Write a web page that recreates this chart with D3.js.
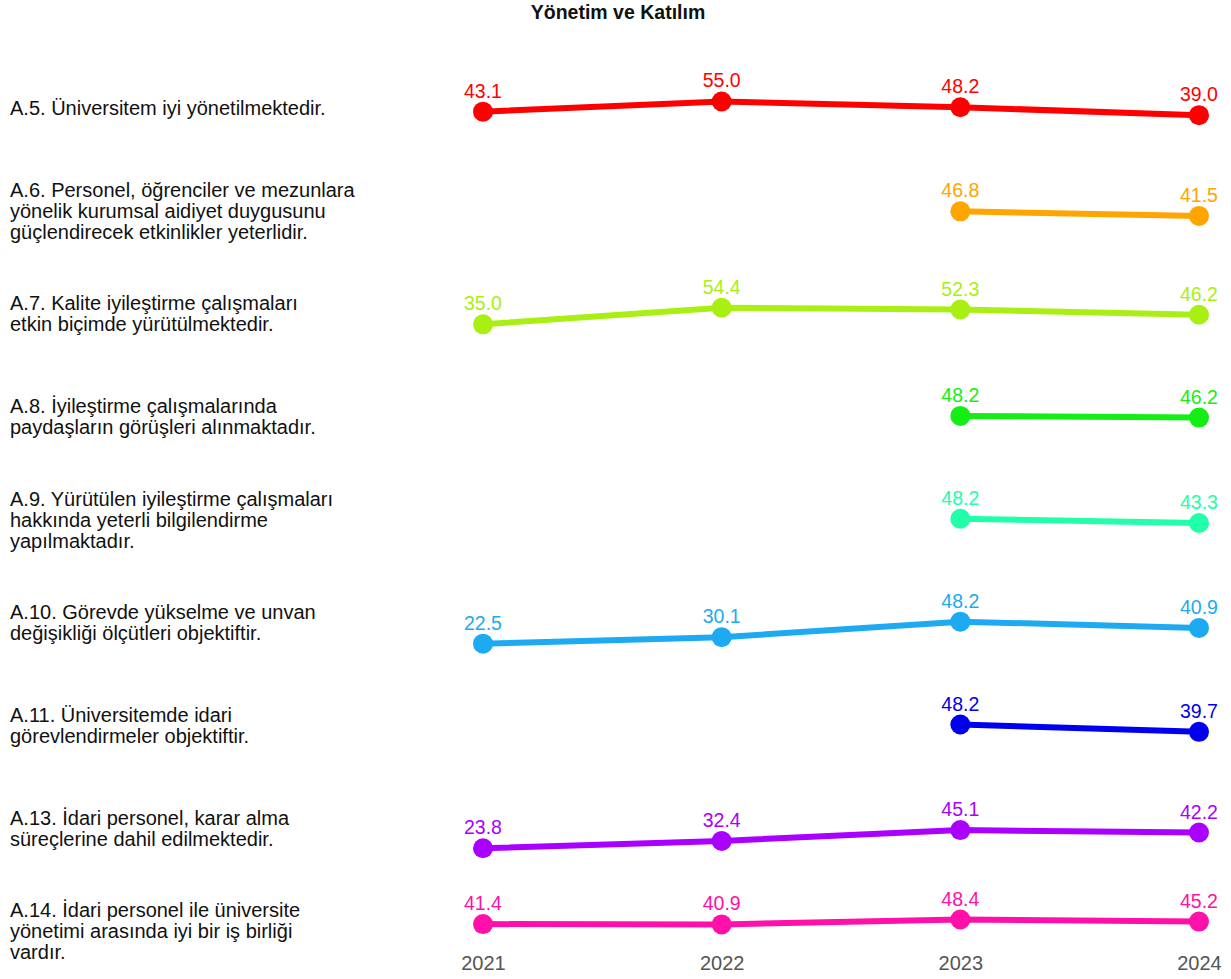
<!DOCTYPE html>
<html>
<head>
<meta charset="utf-8">
<script src="https://cdn.jsdelivr.net/npm/d3@7"></script>
<style>
  html, body { margin: 0; padding: 0; background: #fff; }
  svg { display: block; font-family: "Liberation Sans", Arial, sans-serif; }
</style>
</head>
<body>
<svg id="chart" width="1231" height="979"></svg>
<script>
// ---------- data ----------
const title = "Yönetim ve Katılım";
const years = ["2021", "2022", "2023", "2024"];
const rowIds = ["A.5", "A.6", "A.7", "A.8", "A.9", "A.10", "A.11", "A.13", "A.14"];
const rowLabels = [
  ["A.5. Üniversitem iyi yönetilmektedir."],
  ["A.6. Personel, öğrenciler ve mezunlara", "yönelik kurumsal aidiyet duygusunu", "güçlendirecek etkinlikler yeterlidir."],
  ["A.7. Kalite iyileştirme çalışmaları", "etkin biçimde yürütülmektedir."],
  ["A.8. İyileştirme çalışmalarında", "paydaşların görüşleri alınmaktadır."],
  ["A.9. Yürütülen iyileştirme çalışmaları", "hakkında yeterli bilgilendirme", "yapılmaktadır."],
  ["A.10. Görevde yükselme ve unvan", "değişikliği ölçütleri objektiftir."],
  ["A.11. Üniversitemde idari", "görevlendirmeler objektiftir."],
  ["A.13. İdari personel, karar alma", "süreçlerine dahil edilmektedir."],
  ["A.14. İdari personel ile üniversite", "yönetimi arasında iyi bir iş birliği", "vardır."]
];
const seriesA5  = [43.1, 55.0, 48.2, 39.0];
const seriesA6  = [null, null, 46.8, 41.5];
const seriesA7  = [35.0, 54.4, 52.3, 46.2];
const seriesA8  = [null, null, 48.2, 46.2];
const seriesA9  = [null, null, 48.2, 43.3];
const seriesA10 = [22.5, 30.1, 48.2, 40.9];
const seriesA11 = [null, null, 48.2, 39.7];
const seriesA13 = [23.8, 32.4, 45.1, 42.2];
const seriesA14 = [41.4, 40.9, 48.4, 45.2];
const allSeries = [seriesA5, seriesA6, seriesA7, seriesA8, seriesA9, seriesA10, seriesA11, seriesA13, seriesA14];
const colors = ["#ff0000", "#ffa500", "#aaef14", "#14ee14", "#22ffaa", "#1eaaf0", "#0000ee", "#aa00ff", "#ff10a8"];

// ---------- layout ----------
const svg = d3.select("#chart");

const x = d3.scalePoint().domain(years).range([483, 1199]);
const rowCenter = d3.scalePoint().domain(rowIds).range([108, 931]);
const plotBottom = 951;

function yScaleFor(id) {
  const c = rowCenter(id);
  const bottom = Math.min(c + 40.5, plotBottom);
  return d3.scaleLinear().domain([0, 100]).range([bottom, c - 45]);
}

// title
svg.append("text")
  .attr("x", 618).attr("y", 19)
  .attr("text-anchor", "middle")
  .attr("font-weight", "bold")
  .attr("font-size", 19.5)
  .attr("fill", "#111")
  .text(title);

// row labels
rowIds.forEach((id, i) => {
  const lines = rowLabels[i];
  const lh = 21;
  const c = rowCenter(id);
  const t = svg.append("text")
    .attr("x", 10)
    .attr("font-size", 20)
    .attr("fill", "#111");
  lines.forEach((ln, k) => {
    t.append("tspan")
      .attr("x", 10)
      .attr("y", c + (k - (lines.length - 1) / 2) * lh)
      .attr("dy", "0.35em")
      .text(ln);
  });
});

// series
rowIds.forEach((id, i) => {
  const y = yScaleFor(id);
  const pts = years.map((yr, j) => ({ yr, v: allSeries[i][j] })).filter(d => d.v != null);
  const g = svg.append("g");
  const line = d3.line().x(d => x(d.yr)).y(d => y(d.v));
  g.append("path")
    .datum(pts)
    .attr("d", line)
    .attr("fill", "none")
    .attr("stroke", colors[i])
    .attr("stroke-width", 6)
    .attr("stroke-linecap", "round");
  g.selectAll("circle").data(pts).join("circle")
    .attr("cx", d => x(d.yr))
    .attr("cy", d => y(d.v))
    .attr("r", 10)
    .attr("fill", colors[i]);
  g.selectAll("text").data(pts).join("text")
    .attr("x", d => x(d.yr))
    .attr("y", d => y(d.v) - 14)
    .attr("text-anchor", "middle")
    .attr("font-size", 19.5)
    .attr("fill", colors[i])
    .text(d => d.v.toFixed(1));
});

// x axis labels
const xAxis = d3.axisBottom(x).tickSize(0).tickPadding(0);
const ax = svg.append("g").attr("transform", "translate(0,956)").call(xAxis);
ax.select(".domain").remove();
ax.selectAll("text")
  .attr("font-size", 20)
  .attr("fill", "#555")
  .attr("font-family", "Liberation Sans, Arial, sans-serif");
</script>
</body>
</html>
